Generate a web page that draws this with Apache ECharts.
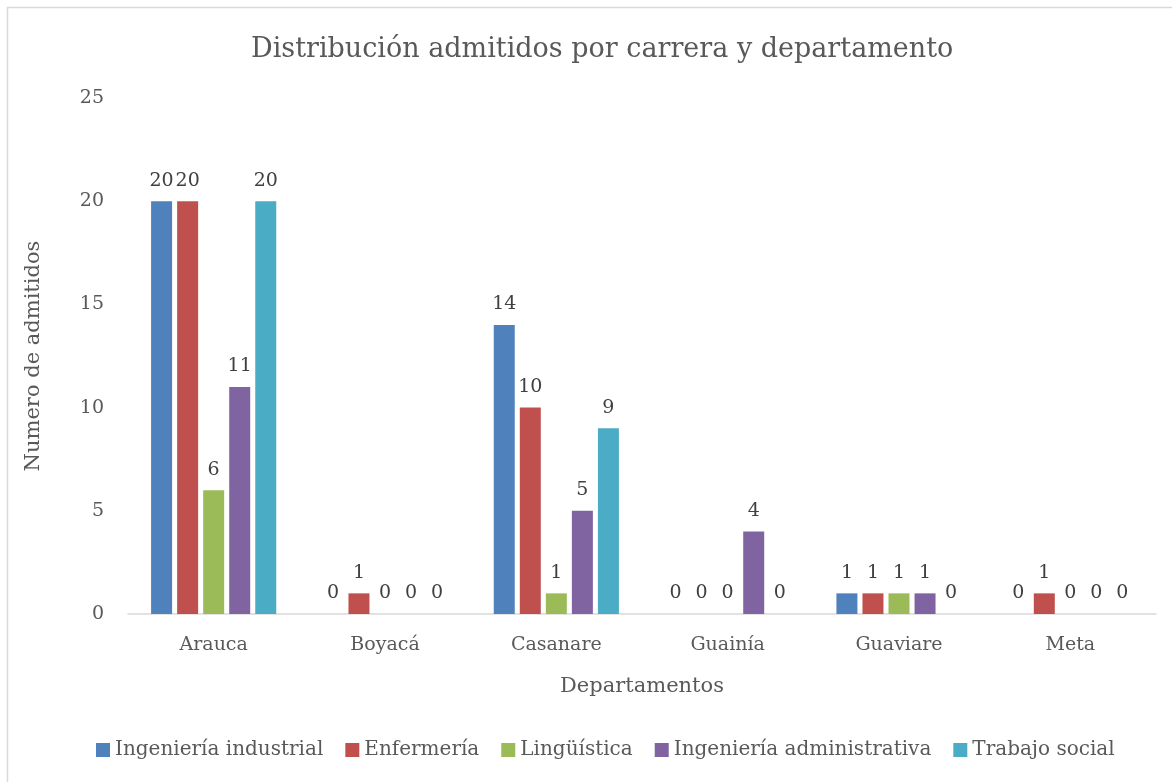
<!DOCTYPE html>
<html><head><meta charset="utf-8">
<script src="https://cdn.jsdelivr.net/npm/echarts@6/dist/echarts.min.js"></script>
<style>html,body{margin:0;padding:0;background:#fff}#c{width:1172px;height:782px}</style>
</head><body><div id="c"></div>
<script>
const categories = ['Arauca','Boyacá','Casanare','Guainía','Guaviare','Meta'];
const seriesNames = ['Ingeniería industrial','Enfermería','Lingüística','Ingeniería administrativa','Trabajo social'];
const ingIndustrial = [20,0,14,0,1,0];
const enfermeria = [20,1,10,0,1,1];
const linguistica = [6,0,1,0,1,0];
const ingAdministrativa = [11,0,5,4,1,0];
const trabajoSocial = [20,0,9,0,0,0];
const values = [ingIndustrial, enfermeria, linguistica, ingAdministrativa, trabajoSocial];
const colors = ['#4F81BD','#C0504D','#9BBB59','#8064A2','#4BACC6'];
const FONT = 'DejaVu Serif';

const chart = echarts.init(document.getElementById('c'));
chart.setOption({
  animation:false,
  textStyle:{fontFamily:FONT},
  title:{text:'Distribución admitidos por carrera y departamento',left:246,top:31,
    textStyle:{fontFamily:FONT,fontSize:27,fontWeight:'normal',color:'#595959'}},
  graphic:[{type:'rect',shape:{x:7.5,y:7.5,width:1180,height:790},style:{fill:'none',stroke:'#D9D9D9',lineWidth:1.5},silent:true}],
  grid:{left:128,right:16,top:98,bottom:168},
  legend:{bottom:17,left:91,itemWidth:14,itemHeight:14,itemGap:22,icon:'rect',
    textStyle:{fontFamily:FONT,fontSize:20,color:'#595959'},data:seriesNames},
  xAxis:{type:'category',data:categories,
    name:'Departamentos',nameLocation:'middle',nameGap:62,
    nameTextStyle:{fontFamily:FONT,fontSize:21,color:'#595959'},
    axisLine:{lineStyle:{color:'#D9D9D9',width:1.5}},axisTick:{show:false},
    axisLabel:{fontFamily:FONT,fontSize:19,color:'#595959',margin:22}},
  yAxis:{type:'value',min:0,max:25,interval:5,
    name:'Numero de admitidos',nameLocation:'middle',nameGap:84,
    nameTextStyle:{fontFamily:FONT,fontSize:21,color:'#595959'},
    axisLine:{show:false},axisTick:{show:false},splitLine:{show:false},
    axisLabel:{fontFamily:FONT,fontSize:19,color:'#595959',margin:24}},
  series: seriesNames.map((n,i)=>({
    name:n,type:'bar',data:values[i],barWidth:21,barGap:'24%',
    itemStyle:{color:colors[i]},
    label:{show:true,position:'top',distance:11,fontFamily:FONT,fontSize:19,color:'#404040'}
  }))
});
</script></body></html>
